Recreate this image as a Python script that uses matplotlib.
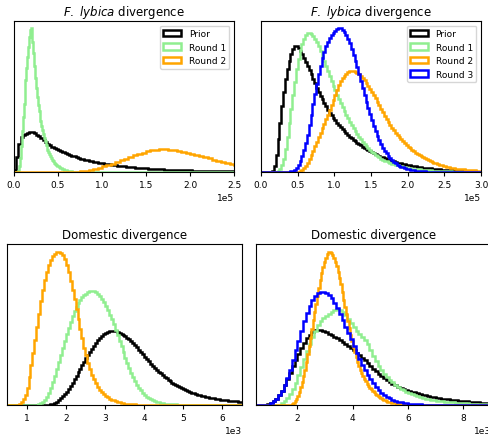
import numpy as np
import matplotlib
matplotlib.use("Agg")
import matplotlib.pyplot as plt

# ---- Posterior / prior histograms (bin heights, arbitrary density units) ----
# Each series: first bin edge, bin width, bin heights.

# F. lybica divergence, run A
lyb_a_prior_start, lyb_a_prior_width = 0, 2500
lyb_a_prior = [2, 15, 28, 35, 37.5, 38.5, 39.5, 40, 40, 39, 37.5, 36, 34, 32, 30, 28.5, 27, 25.5, 24, 23,
               22, 21, 20, 19, 18, 17.2, 16.4, 15.6, 14.8, 14.2, 13.5, 12.9, 12.3, 11.8, 11.3, 10.8, 10.3, 9.8, 9.4, 9,
               8.6, 8.3, 7.9, 7.6, 7.3, 7.0, 6.7, 6.4, 6.1, 5.9, 5.6, 5.4, 5.2, 4.9, 4.7, 4.5, 4.3, 4.1, 3.9, 3.8,
               3.6, 3.5, 3.3, 3.2, 3.0, 2.9, 2.8, 2.6, 2.5, 2.4, 2.3, 2.2, 2.1, 2.0, 1.95, 1.9, 1.8, 1.75, 1.65, 1.6,
               1.55, 1.5, 1.45, 1.4, 1.35, 1.3, 1.25, 1.2, 1.15, 1.1, 1.05, 1.0, 0.98, 0.95, 0.92, 0.9, 0.87, 0.85, 0.82, 0.8]
lyb_a_r1_start, lyb_a_r1_width = 5000, 1000
lyb_a_r1 = [1, 6, 14, 26, 41, 55, 68, 80, 92, 104, 115, 125, 135, 142, 144, 140, 130, 119, 106, 94,
            84, 75, 67, 61, 55, 51, 46, 42, 38, 34, 31, 27.5, 25, 22.5, 20, 18, 16, 14, 12.5, 11.5,
            10, 9, 8, 7, 6.3, 5.7, 5, 4.3, 3.8, 3.4, 3, 2.6, 2.3, 1.9, 1.7, 1.5, 1.3, 1.1, 1.0, 0.8,
            0.7, 0.5, 0.45, 0.35, 0.25, 0.15]
lyb_a_r2_start, lyb_a_r2_width = 60000, 5000
lyb_a_r2 = [0.1, 0.2, 0.4, 0.8, 1.4, 2.2, 3.2, 4.3, 5.6, 7.0, 8.5, 10.1, 11.8, 13.5,
            15.1, 16.7, 18.2, 19.5, 20.7, 21.7, 22.4, 22.8, 22.8, 22.5, 22.0, 21.3,
            20.4, 19.4, 18.3, 17.2, 16.0, 14.8, 13.6, 12.4, 11.3, 10.2, 9.1, 8.1,
            7.2, 6.4]

# F. lybica divergence, run B
lyb_b_prior_start, lyb_b_prior_width = 15000, 2500
lyb_b_prior = [1, 6, 17, 33, 49, 66, 80, 93, 103, 111, 118, 123, 126, 126, 124.5, 121.5, 118, 114, 110, 106,
               102, 98, 93, 89, 84.5, 80, 76.5, 73, 69.5, 66, 62.5, 59.5, 57, 54.5, 52, 49.5, 47, 45, 43, 41,
               39, 37, 35.3, 33.7, 32.2, 30.8, 29.3, 27.8, 26.6, 25.3, 24.1, 22.9, 22, 21, 20, 19, 18, 17, 16.2, 15.4,
               14.6, 13.8, 13.1, 12.4, 11.8, 11.2, 10.6, 10.0, 9.5, 9.0, 8.6, 8.2, 7.8, 7.4, 7.0, 6.6, 6.3, 5.9, 5.6, 5.3,
               5.0, 4.7, 4.5, 4.2, 4.0, 3.8, 3.6, 3.4, 3.2, 3.0, 2.8, 2.6, 2.45, 2.3, 2.15, 2.0, 1.85, 1.7, 1.6, 1.5,
               1.4, 1.3, 1.2, 1.1, 1.0, 0.9]
lyb_b_r1_start, lyb_b_r1_width = 20000, 2500
lyb_b_r1 = [0.5, 1.5, 3.5, 7, 13, 23, 35, 49, 63, 77, 90, 103, 113, 122, 128.5, 133.5, 137, 139, 139.5, 138.5,
            136.5, 133.5, 130, 126, 121.5, 116.5, 111.5, 106.5, 101.5, 96.5, 91.5, 86.5, 82, 77.5, 73, 69, 65, 61, 57.5, 54,
            50.5, 47.5, 44.5, 41.5, 38.5, 35.5, 33, 30.5, 28, 26, 24, 22, 20.3, 18.7, 17.2, 15.8, 14.6, 13.4, 12.4, 11.5,
            10.6, 9.8, 9.1, 8.4, 7.7, 7.1, 6.6, 6.1, 5.6, 5.2, 4.8, 4.4, 4.1, 3.8, 3.5, 3.2, 3.0, 2.8, 2.6, 2.4,
            2.2, 2.0, 1.9, 1.75, 1.6, 1.45, 1.35, 1.25, 1.15, 1.05, 0.95, 0.85, 0.75, 0.7, 0.6, 0.55, 0.5, 0.45, 0.4, 0.35]
lyb_b_r2_start, lyb_b_r2_width = 50000, 2500
lyb_b_r2 = [0.3, 0.8, 2, 4, 6.5, 9.5, 13, 17, 21.5, 26, 30.5, 35, 39.5, 44, 48.5, 53, 57.5, 62, 67, 72,
            77, 82, 87, 91, 94, 96.5, 98.5, 100, 101, 101.5, 101.5, 100.5, 99.5, 98, 96, 94, 92, 89.5, 86.5, 83.5,
            80.5, 77.5, 74, 70.5, 67, 63.5, 60, 56.5, 53.5, 50.5, 47.5, 44.5, 42, 39.5, 37, 35, 33, 31, 29, 27,
            25.5, 24, 22.5, 21, 19.5, 18.2, 17, 15.8, 14.7, 13.6, 12.7, 11.7, 10.8, 10, 9.3, 8.6, 7.9, 7.3, 6.8, 6.2,
            5.7, 5.3, 4.9, 4.5, 4.2, 3.8, 3.5, 3.3, 3.0, 2.8, 2.6, 2.4, 2.2, 2.0, 1.85, 1.7, 1.6, 1.45, 1.35, 1.25]
lyb_b_r3_start, lyb_b_r3_width = 35000, 2500
lyb_b_r3 = [0.2, 0.4, 0.8, 1.3, 2.5, 4.5, 7, 11, 16, 22, 29, 37, 47, 57, 68, 78, 88, 98, 106, 114,
            120, 126, 130, 134, 137, 139, 141, 143, 144, 144, 142, 140, 137, 133, 129, 123, 117, 111, 105, 98.5,
            91.5, 84.5, 77.5, 70.5, 64, 58, 52, 46, 41, 36.5, 32, 28, 24.5, 21.5, 18.7, 16.3, 14, 12, 10.3, 8.7,
            7.5, 6.5, 5.5, 4.7, 4, 3.3, 2.8, 2.3, 2, 1.7, 1.4, 1.2, 1, 0.8, 0.65, 0.55, 0.45, 0.35, 0.28, 0.22,
            0.17, 0.12]

# Domestic divergence, run A
dom_a_prior_start, dom_a_prior_width = 1500, 50
dom_a_prior = [0.1, 0.3, 0.7, 1.3, 2.3, 3.5, 5, 7, 9, 11, 13.5, 16.5, 19.5, 22.5, 26, 29.5, 33, 36.5, 40, 43.5,
               47, 50.5, 53.5, 56.5, 59.5, 62.5, 65, 67, 69, 71, 72.5, 73.5, 74, 74.3, 74.3, 74, 73.5, 72.5, 71.5, 70.3,
               69, 67.5, 66, 64, 62, 60, 58, 55.5, 53, 51, 48.5, 46, 44, 41.5, 39.5, 37.5, 35.5, 33.5, 31.8, 30,
               28.3, 26.8, 25.3, 23.8, 22.5, 21.2, 20, 18.8, 17.7, 16.7, 15.7, 14.8, 13.9, 13.1, 12.3, 11.6, 10.9, 10.3, 9.7, 9.2,
               8.7, 8.2, 7.8, 7.4, 7, 6.6, 6.3, 6, 5.7, 5.4, 5.1, 4.9, 4.7, 4.5, 4.3, 4.1, 3.9, 3.7, 3.5, 3.4,
               3.3, 3.2]
dom_a_r1_start, dom_a_r1_width = 1200, 50
dom_a_r1 = [0.2, 0.4, 1, 2, 3.5, 5.5, 8, 12, 17, 23, 29.5, 36.5, 43.5, 50.5, 57.5, 64.5, 71, 77, 83, 89,
            94, 98.5, 102.5, 105.5, 108, 110, 111.5, 113, 114, 114, 114, 113, 111.5, 109.5, 106.5, 103, 99, 95, 90.5, 86,
            81, 75.5, 70, 64.5, 59, 53, 47.5, 42.5, 37.5, 32.5, 28, 24, 20.5, 17.5, 14.8, 12.4, 10.3, 8.5, 7, 5.8,
            4.8, 4, 3.3, 2.7, 2.2, 1.8, 1.5, 1.3, 1.1, 0.9, 0.75, 0.65, 0.55, 0.45, 0.35, 0.3, 0.25, 0.2, 0.15, 0.1]
dom_a_r2_start, dom_a_r2_width = 800, 50
dom_a_r2 = [1, 3, 6, 10.5, 17, 28, 40, 52, 65, 78, 91, 104, 115, 125, 133, 140, 145, 149, 151.5, 153,
            153.5, 152.5, 150, 146, 140.5, 133, 124.5, 115, 106, 96, 86, 76, 67, 57.5, 50, 42.5, 36, 30.5, 26, 22,
            18.5, 15.5, 13, 11, 9.3, 7.8, 6.5, 5.5, 4.6, 3.8, 3.2, 2.6, 2.2, 1.8, 1.5, 1.3, 1.1, 0.9, 0.75, 0.6,
            0.5, 0.4, 0.3, 0.25, 0.2, 0.15]

# Domestic divergence, run B
dom_b_prior_start, dom_b_prior_width = 800, 100
dom_b_prior = [0.2, 1, 2, 3.5, 6, 10, 14, 20, 26, 32, 39, 45, 51, 57, 62, 67, 70, 73,
               74.5, 75, 74.5, 73.5, 72.5, 71, 69.5, 68, 66.5, 64.5, 63, 61, 59, 57,
               54.5, 52, 49.5, 47, 44.5, 42, 39, 36, 33.5, 31, 28.5, 26.5, 24.5, 22.5,
               21, 19.5, 18, 17, 16, 15, 14, 13.2, 12.5, 11.7, 11, 10.3, 9.6, 9, 8.4,
               7.8, 7.2, 6.8, 6.4, 6, 5.6, 5.2, 4.9, 4.6, 4.3, 4, 3.7, 3.5, 3.2, 3.0,
               2.8, 2.6, 2.4, 2.2, 2.0, 1.8, 1.7]
dom_b_r1_start, dom_b_r1_width = 1300, 100
dom_b_r1 = [0.3, 1.5, 4, 7, 11, 16, 22, 30, 38, 46, 54, 61, 68, 74, 80, 84, 87, 89, 91,
            93, 94.5, 95.5, 95, 93, 90, 86, 82, 78, 74, 71, 68, 65, 61, 55, 49, 44,
            39, 35, 31, 28, 25, 22.5, 20, 18, 16, 14.5, 13, 11.7, 10.5, 9.5, 8.6, 7.8,
            7.0, 6.4, 5.8, 5.2, 4.7, 4.3, 3.9, 3.6, 3.3, 3.0, 2.7, 2.5, 2.3, 2.1, 1.9,
            1.7, 1.6, 1.4, 1.3, 1.1, 1.0, 0.9, 0.8, 0.7, 0.6]
dom_b_r2_start, dom_b_r2_width = 1800, 50
dom_b_r2 = [0.5, 1.5, 3.5, 6, 9, 13, 17.5, 22.5, 28.5, 35, 43, 51, 59, 67, 76, 84.5, 93, 101, 109, 117,
            124.5, 131.5, 137.5, 142.5, 147, 150.5, 152.5, 153, 152, 150, 147, 143, 138.5, 133, 127, 120.5, 113, 105, 97.5, 90.5,
            83.5, 76.5, 70, 64, 58, 52.5, 47.5, 42.5, 38.5, 34.5, 31.5, 28.5, 26, 23.5, 21, 19, 17.3, 15.6, 14, 12.5,
            11.1, 9.9, 8.8, 7.8, 6.9, 6, 5.2, 4.5, 3.9, 3.4, 2.9, 2.5, 2.2, 1.9, 1.6, 1.4, 1.2, 1.0, 0.9, 0.75,
            0.65, 0.55, 0.45, 0.4, 0.3, 0.25, 0.2, 0.18, 0.15, 0.12, 0.1, 0.08]
dom_b_r3_start, dom_b_r3_width = 900, 100
dom_b_r3 = [0.3, 1.5, 3.5, 6, 9.5, 14, 19.5, 27, 35, 45, 55, 64, 74, 84, 92, 99, 105,
            109, 112, 113, 113, 112, 110, 107, 102, 97, 91, 85, 78, 72, 66, 59, 52,
            46, 40, 35, 30, 25.5, 21.5, 18, 15, 12.3, 10, 8.2, 6.7, 5.4, 4.3, 3.4,
            2.7, 2.1, 1.7, 1.3, 1.0, 0.8, 0.6, 0.5, 0.4, 0.3, 0.2, 0.15, 0.1]

COLORS = {"Prior": "black", "Round 1": "lightgreen", "Round 2": "orange",
          "Round 3": "blue"}
LW = 1.8


def step_hist(ax, start, width, heights, lo, hi, label):
    """Draw one outlined histogram, padded with empty bins out to [lo, hi]."""
    n = len(heights)
    edges = start + width * np.arange(n + 1)
    weights = list(heights)
    if lo < edges[0]:
        edges = np.concatenate(([lo], edges))
        weights = [0.0] + weights
    if hi > edges[-1]:
        edges = np.concatenate((edges, [hi]))
        weights = weights + [0.0]
    centers = 0.5 * (edges[:-1] + edges[1:])
    ax.hist(centers, bins=edges, weights=weights, histtype="step",
            color=COLORS[label], lw=LW, label=label)
    return max(heights)


def style(ax, xlim, top, title):
    ax.set_xlim(*xlim)
    ax.set_ylim(0, top * 1.05)
    ax.set_yticks([])
    ax.ticklabel_format(style="sci", axis="x", scilimits=(0, 0))
    ax.tick_params(axis="x", labelsize=6.5, length=3, width=0.8, pad=2.5)
    ax.xaxis.get_offset_text().set_fontsize(6.5)
    ax.set_title(title, fontsize=8.5, pad=4)


W, H = 488, 435
fig = plt.figure(figsize=(W / 100, H / 100), dpi=100)


def px_axes(x0, y0, x1, y1):
    return fig.add_axes([x0 / W, 1 - y1 / H, (x1 - x0) / W, (y1 - y0) / H])


lyb_title = r"$\it{F.\ lybica}$ divergence"

# Top left
ax = px_axes(14, 22, 234, 173)
lo, hi = 0, 250000
m = max(step_hist(ax, lyb_a_prior_start, lyb_a_prior_width, lyb_a_prior, lo, hi, "Prior"),
        step_hist(ax, lyb_a_r1_start, lyb_a_r1_width, lyb_a_r1, lo, hi, "Round 1"),
        step_hist(ax, lyb_a_r2_start, lyb_a_r2_width, lyb_a_r2, lo, hi, "Round 2"))
style(ax, (lo, hi), m, lyb_title)
ax.set_xticks(np.arange(0, 250001, 50000))
ax.legend(loc="upper right", fontsize=6.5)

# Top right
ax = px_axes(261, 22, 481, 173)
lo, hi = 0, 300000
m = max(step_hist(ax, lyb_b_prior_start, lyb_b_prior_width, lyb_b_prior, lo, hi, "Prior"),
        step_hist(ax, lyb_b_r1_start, lyb_b_r1_width, lyb_b_r1, lo, hi, "Round 1"),
        step_hist(ax, lyb_b_r2_start, lyb_b_r2_width, lyb_b_r2, lo, hi, "Round 2"),
        step_hist(ax, lyb_b_r3_start, lyb_b_r3_width, lyb_b_r3, lo, hi, "Round 3"))
style(ax, (lo, hi), m, lyb_title)
ax.set_xticks(np.arange(0, 300001, 50000))
ax.legend(loc="upper right", fontsize=6.5)

# Bottom left
ax = px_axes(7, 245, 242, 406)
lo, hi = 500, 6500
m = max(step_hist(ax, dom_a_prior_start, dom_a_prior_width, dom_a_prior, lo, hi, "Prior"),
        step_hist(ax, dom_a_r1_start, dom_a_r1_width, dom_a_r1, lo, hi, "Round 1"),
        step_hist(ax, dom_a_r2_start, dom_a_r2_width, dom_a_r2, lo, hi, "Round 2"))
style(ax, (lo, hi), m, "Domestic divergence")
ax.set_xticks(np.arange(1000, 6001, 1000))

# Bottom right (runs past the right edge of the canvas)
ax = px_axes(256, 245, 491, 406)
lo, hi = 500, 9000
m = max(step_hist(ax, dom_b_prior_start, dom_b_prior_width, dom_b_prior, lo, hi, "Prior"),
        step_hist(ax, dom_b_r1_start, dom_b_r1_width, dom_b_r1, lo, hi, "Round 1"),
        step_hist(ax, dom_b_r2_start, dom_b_r2_width, dom_b_r2, lo, hi, "Round 2"),
        step_hist(ax, dom_b_r3_start, dom_b_r3_width, dom_b_r3, lo, hi, "Round 3"))
style(ax, (lo, hi), m, "Domestic divergence")
ax.set_xticks(np.arange(2000, 8001, 2000))

fig.savefig("out.png", dpi=100)
